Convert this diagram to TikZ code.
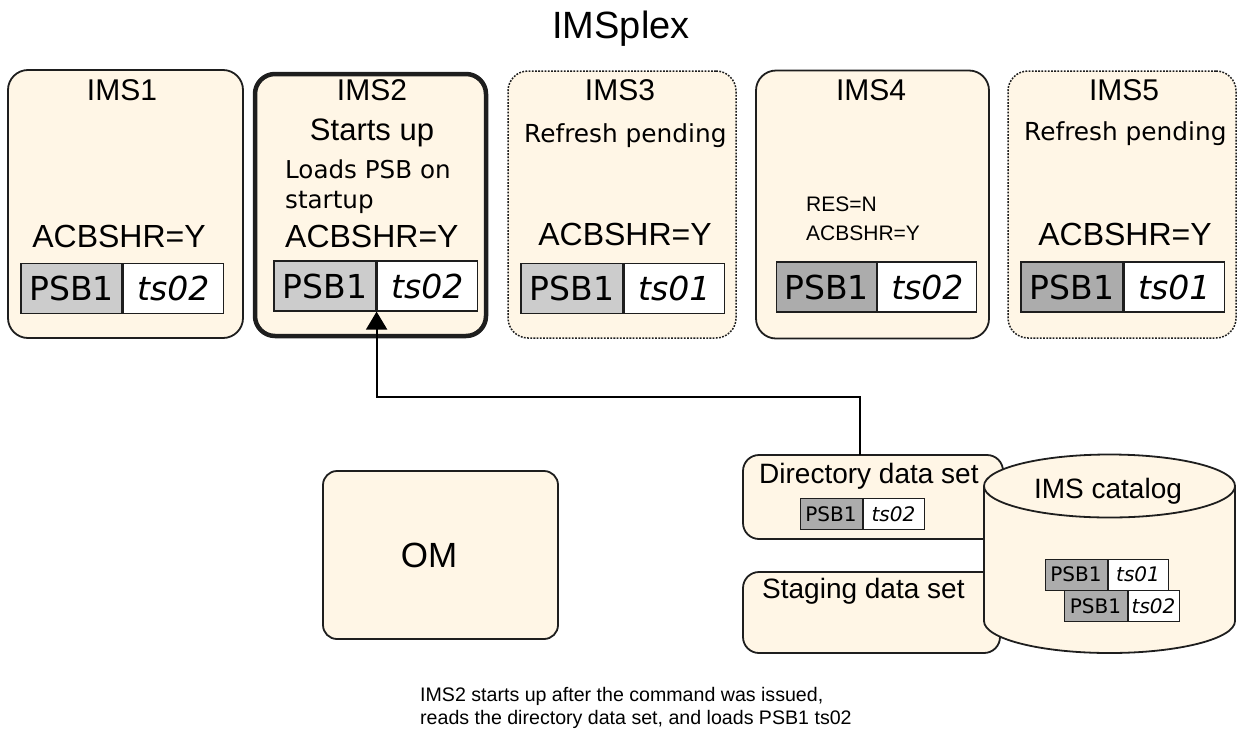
\documentclass[tikz,border=0pt]{standalone}
\usepackage{fontspec}
\setmainfont{Liberation Sans}
\newfontfamily\dv{DejaVu Sans}
\usetikzlibrary{arrows.meta}
\definecolor{cream}{RGB}{255,246,230}
\definecolor{lgray}{RGB}{204,204,204}
\definecolor{dgray}{RGB}{172,172,172}
\definecolor{edge}{RGB}{30,30,30}
\newcommand{\fs}[1]{\fontsize{#1}{#1}\selectfont}
\begin{document}
\begin{tikzpicture}[x=1pt,y=-1pt,
  box/.style={draw=edge, line width=1.8pt, fill=cream, rounded corners=20pt, inner sep=0},
  dbox/.style={box, line width=1.5pt, dash pattern=on 1.8pt off 1.4pt},
  lbl/.style={anchor=base, inner sep=0},
  lbll/.style={anchor=base west, inner sep=0},
  psbl/.style={draw=edge, line width=1.2pt, inner sep=0, minimum width=101pt, minimum height=50pt, fill=lgray, font=\dv\fs{33}},
  psbd/.style={psbl, fill=dgray},
  psbw/.style={psbl, fill=white, font=\dv\itshape\fs{33}, anchor=west},
  spsb/.style={draw=edge, line width=1pt, inner sep=0, minimum height=31pt, fill=dgray, font=\dv\fs{20}},
  spsbw/.style={spsb, fill=white, font=\dv\itshape\fs{20}, anchor=west},
  conn/.style={draw=black, line width=2pt, -{Triangle[width=21pt,length=18pt]}}
]
\useasboundingbox (0,0) rectangle (1241,734);

% title
\node[lbl, font=\fs{38}] (title) at (621,38) {IMSplex};

% IMS boxes
\node[box, minimum width=235pt, minimum height=268pt] (ims1) at (125.5,204) {};
\node[box, line width=4.5pt, minimum width=231pt, minimum height=262pt] (ims2) at (370.5,205) {};
\node[dbox, minimum width=228pt, minimum height=267pt] (ims3) at (622,204.5) {};
\node[box, minimum width=233pt, minimum height=268pt] (ims4) at (872.5,204.5) {};
\node[dbox, minimum width=228pt, minimum height=267pt] (ims5) at (1122,204.5) {};

% IMS1
\node[lbl, font=\fs{30}] (n1) at (122,100) {IMS1};
\node[lbl, font=\fs{32}] (a1) at (119,247) {ACBSHR=Y};
\node[psbl, minimum width=101pt] (p1a) at (71.5,288.5) {PSB1};
\node[psbw, minimum width=100pt] (p1b) at (p1a.east) {ts02};

% IMS2
\node[lbl, font=\fs{30}] (n2) at (372,100) {IMS2};
\node[lbl, font=\fs{31}] (s2) at (372,140) {Starts up};
\node[lbll, font=\dv\fs{24.6}] (l2) at (285,178) {Loads PSB on};
\node[lbll, font=\dv\fs{24.6}] (l2b) at (285,208) {startup};
\node[lbll, font=\fs{32}] (a2) at (285,247) {ACBSHR=Y};
\node[psbl, minimum width=102pt] (p2a) at (325,286) {PSB1};
\node[psbw, minimum width=100pt] (p2b) at (p2a.east) {ts02};

% IMS3
\node[lbl, font=\fs{30}] (n3) at (620,100) {IMS3};
\node[lbll, font=\dv\fs{24.8}] (r3) at (524,142) {Refresh pending};
\node[lbl, font=\fs{32}] (a3) at (625,245) {ACBSHR=Y};
\node[psbl, minimum width=102pt] (p3a) at (572,288.5) {PSB1};
\node[psbw, minimum width=100pt] (p3b) at (p3a.east) {ts01};

% IMS4
\node[lbl, font=\fs{30}] (n4) at (871,100) {IMS4};
\node[lbll, font=\fs{21}] (res4) at (806,211) {RES=N};
\node[lbll, font=\fs{21}] (a4) at (806,240) {ACBSHR=Y};
\node[psbd, minimum width=100pt] (p4a) at (826.6,287) {PSB1};
\node[psbw, minimum width=99pt] (p4b) at (p4a.east) {ts02};

% IMS5
\node[lbl, font=\fs{30}] (n5) at (1124,100) {IMS5};
\node[lbll, font=\dv\fs{24.8}] (r5) at (1024,140) {Refresh pending};
\node[lbl, font=\fs{32}] (a5) at (1125,245) {ACBSHR=Y};
\node[psbd, minimum width=102pt] (p5a) at (1072,287) {PSB1};
\node[psbw, minimum width=100pt] (p5b) at (p5a.east) {ts01};

% OM
\node[box, rounded corners=14pt, minimum width=235pt, minimum height=168pt] (om) at (440.5,555) {};
\node[lbl, font=\fs{35}] (omt) at (429,567) {OM};

% Directory and staging data sets
\node[box, rounded corners=16pt, minimum width=260pt, minimum height=84pt] (dds) at (873,497) {};
\node[lbll, font=\fs{28}] (ddst) at (759,483) {Directory data set};
\node[spsb, minimum width=62pt] (dpa) at (831,514) {PSB1};
\node[spsbw, minimum width=61pt] (dpb) at (dpa.east) {ts02};

\node[box, rounded corners=16pt, minimum width=257pt, minimum height=81pt] (sds) at (871.5,612.5) {};
\node[lbll, font=\fs{28}] (sdst) at (762,598) {Staging data set};

% connector
\coordinate (dtop) at (860,455);
\draw[conn] (dtop) -- ++(0,-58) -| (p2a.south east);

% IMS catalog cylinder
\path[draw=edge, line width=1.8pt, fill=cream]
  (984,486) -- (984,621) arc[start angle=180, end angle=360, x radius=125.5pt, y radius=32pt]
  -- (1235,486) arc[start angle=0, end angle=180, x radius=125.5pt, y radius=31.5pt] -- cycle;
\draw[edge, line width=1.8pt] (984,486) arc[start angle=180, end angle=360, x radius=125.5pt, y radius=31.5pt];
\node[lbl, font=\fs{28}] (cat) at (1108,498) {IMS catalog};
\node[spsb, minimum width=62pt] (c1a) at (1076,574.5) {PSB1};
\node[spsbw, minimum width=60pt] (c1b) at (c1a.east) {ts01};
\node[spsb, minimum width=63pt] (c2a) at (1095.5,606) {PSB1};
\node[spsbw, minimum width=51pt] (c2b) at (c2a.east) {ts02};

% caption
\node[lbll, font=\fs{19.6}] (cap1) at (420,701) {IMS2 starts up after the command was issued,};
\node[lbll, font=\fs{19.6}] (cap2) at (420,724) {reads the directory data set, and loads PSB1 ts02};
\end{tikzpicture}
\end{document}
